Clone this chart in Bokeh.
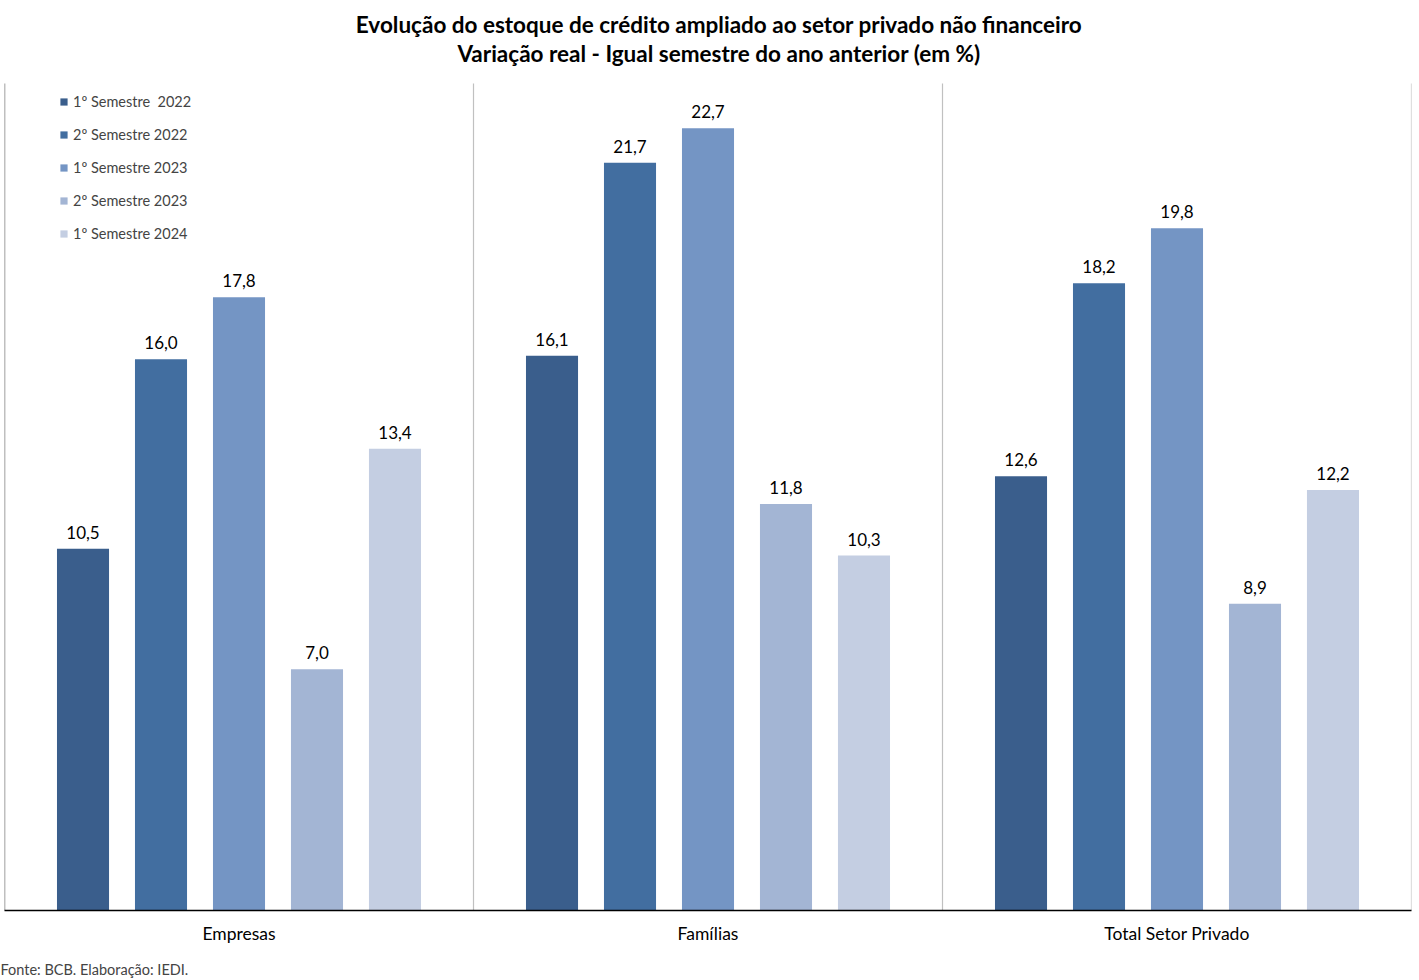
from bokeh.plotting import figure
from bokeh.models import ColumnDataSource, FixedTicker, Legend, LegendItem, Title, Label, Range1d
from bokeh.core.properties import value
from bokeh.embed import file_html
from bokeh.resources import INLINE

categories = ["Empresas", "Famílias", "Total Setor Privado"]
series_names = ["1º Semestre  2022", "2º Semestre 2022", "1º Semestre 2023", "2º Semestre 2023", "1º Semestre 2024"]
s1_2022 = [10.5, 16.1, 12.6]
s2_2022 = [16.0, 21.7, 18.2]
s1_2023 = [17.8, 22.7, 19.8]
s2_2023 = [7.0, 11.8, 8.9]
s1_2024 = [13.4, 10.3, 12.2]
series_values = [s1_2022, s2_2022, s1_2023, s2_2023, s1_2024]
colors = ["#3A5E8C", "#426EA0", "#7495C4", "#A3B5D4", "#C4CEE2"]
title_lines = ["Evolução do estoque de crédito ampliado ao setor privado não financeiro",
               "Variação real - Igual semestre do ano anterior (em %)"]
source_note = "Fonte: BCB. Elaboração: IEDI."
y_max = 24

FONT = "Lato"

# the frame also hosts the title block above the value area
plot_h_px = 827          # height of the value area (0..y_max)
title_h_px = 83          # space above it for the titles
ppu = plot_h_px / y_max
y_top = (plot_h_px + title_h_px) / ppu

p = figure(width=1415, height=979, output_backend="svg", toolbar_location=None,
           x_range=Range1d(0, 3), y_range=Range1d(0, y_top),
           min_border_left=4, min_border_right=4, min_border_top=0, min_border_bottom=69)
p.title.visible = False
p.outline_line_color = None
p.background_fill_color = "white"

# group separators (only over the value area)
sep = ColumnDataSource(dict(x=[1, 2, 3], y0=[0, 0, 0], y1=[y_max] * 3))
p.segment(x0="x", y0="y0", x1="x", y1="y1", source=sep, line_color="#C0C0C0", line_width=1.2)
p.segment(x0=[0], y0=[0], x1=[0], y1=[y_max], line_color="#808080", line_width=1.5)

step = 0.1663
bw = 0.111
renderers = []
for j, (name, vals, col) in enumerate(zip(series_names, series_values, colors)):
    xs = [i + 0.5 + (j - 2) * step for i in range(len(categories))]
    src = ColumnDataSource(dict(x=xs, top=vals, lab=[f"{v:.1f}".replace(".", ",") for v in vals]))
    r = p.vbar(x="x", top="top", width=bw, source=src, fill_color=col, line_color=None)
    renderers.append((name, r))
    p.text(x="x", y="top", text="lab", source=src, text_align="center", text_baseline="bottom",
           y_offset=-10, text_font=value(FONT), text_font_size="17px", text_color="black")

p.yaxis.visible = False
p.ygrid.visible = False
p.xgrid.visible = False
p.xaxis.ticker = FixedTicker(ticks=[0.5, 1.5, 2.5])
p.xaxis.major_label_overrides = {0.5: categories[0], 1.5: categories[1], 2.5: categories[2]}
p.xaxis.major_tick_line_color = None
p.xaxis.minor_tick_line_color = None
p.xaxis.axis_line_color = "black"
p.xaxis.axis_line_width = 1.5
p.xaxis.major_label_text_font = FONT
p.xaxis.major_label_text_font_size = "17.5px"
p.xaxis.major_label_text_color = "black"
p.xaxis.major_label_standoff = 6

legend = Legend(items=[LegendItem(label=n, renderers=[r]) for n, r in renderers],
                location=(55, 667), orientation="vertical",
                glyph_width=9, glyph_height=9, label_height=20, spacing=13,
                label_standoff=5, padding=8, margin=0,
                label_text_font=FONT, label_text_font_size="14.5px",
                border_line_color=None, background_fill_alpha=0)
p.add_layout(legend)

title_x = 1.5 + 11 / (1407 / 3)
for line, dy_px in zip(title_lines, [24, 53]):
    p.add_layout(Label(x=title_x, y=y_top - (dy_px / ppu), text=line,
                       text_align="center", text_baseline="middle", text_font=FONT,
                       text_font_size="22.5px", text_font_style="bold", text_color="black"))

spacer = Title(text=" ", text_font=FONT, text_font_size="8px", standoff=0)
p.add_layout(spacer, "below")
src_t = Title(text=source_note, align="left", text_font=FONT,
              text_font_size="14.5px", text_font_style="normal", offset=-4, standoff=0)
p.add_layout(src_t, "below")

open("out.html", "w").write(file_html(p, INLINE))
